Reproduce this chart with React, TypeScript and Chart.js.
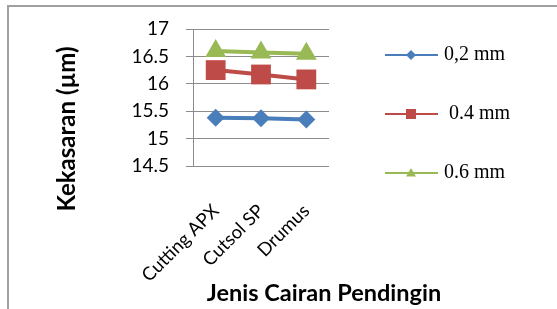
import React, { useEffect, useRef } from "react";
import { Chart, registerables } from "chart.js";

Chart.register(...registerables);

const categories = ["Cutting APX", "Cutsol SP", "Drumus"];
const series02 = [15.38, 15.37, 15.35];
const series04 = [16.25, 16.17, 16.08];
const series06 = [16.6, 16.57, 16.55];
const seriesLabels = ["0,2 mm", " 0.4 mm", "0.6 mm"];
const yTitle = "Kekasaran (µm)";
const xTitle = "Jenis Cairan Pendingin";

const BLUE = "#4A7EBB";
const RED = "#BE4B48";
const GREEN = "#98B954";

const legendAndTitles = {
  id: "legendAndTitles",
  afterDraw(chart: any) {
    const ctx = chart.ctx;
    ctx.save();
    ctx.fillStyle = "#000";
    ctx.font = "bold 24px Lato";
    ctx.textAlign = "center";
    ctx.textBaseline = "middle";
    ctx.translate(67, 129);
    ctx.rotate(-Math.PI / 2);
    ctx.fillText(yTitle, 0, 0);
    ctx.restore();

    ctx.save();
    ctx.fillStyle = "#000";
    ctx.font = "bold 23.5px Lato";
    ctx.textAlign = "center";
    ctx.textBaseline = "middle";
    ctx.fillText(xTitle, 324, 293);
    ctx.restore();

    const rows = [55, 114, 173];
    chart.data.datasets.forEach((ds: any, i: number) => {
      const y = rows[i];
      ctx.save();
      ctx.strokeStyle = ds.borderColor;
      ctx.lineWidth = 2;
      ctx.beginPath();
      ctx.moveTo(385, y);
      ctx.lineTo(438, y);
      ctx.stroke();
      ctx.fillStyle = ds.borderColor;
      const style = ds.pointStyle;
      const r = ds.legendRadius;
      ctx.beginPath();
      if (style === "rectRot") {
        ctx.moveTo(411, y - r);
        ctx.lineTo(411 + r, y);
        ctx.lineTo(411, y + r);
        ctx.lineTo(411 - r, y);
      } else if (style === "rect") {
        ctx.rect(411 - r, y - r, 2 * r, 2 * r);
      } else {
        ctx.moveTo(411, y - r);
        ctx.lineTo(411 + r, y + r * 0.7);
        ctx.lineTo(411 - r, y + r * 0.7);
      }
      ctx.closePath();
      ctx.fill();
      ctx.fillStyle = "#000";
      ctx.font = "20px 'Liberation Serif'";
      ctx.textAlign = "left";
      ctx.textBaseline = "middle";
      ctx.fillText(ds.label, 444, y);
      ctx.restore();
    });
  },
};

export default function App() {
  const ref = useRef<HTMLCanvasElement | null>(null);
  useEffect(() => {
    if (!ref.current) return;
    const chart = new Chart(ref.current, {
      type: "line",
      data: {
        labels: categories,
        datasets: [
          {
            label: seriesLabels[0],
            data: series02,
            borderColor: BLUE,
            backgroundColor: BLUE,
            borderWidth: 4,
            pointStyle: "rectRot",
            pointRadius: 9,
            pointBorderWidth: 0,
            legendRadius: 5,
          } as any,
          {
            label: seriesLabels[1],
            data: series04,
            borderColor: RED,
            backgroundColor: RED,
            borderWidth: 4,
            pointStyle: "rect",
            pointRadius: 14,
            pointBorderWidth: 0,
            legendRadius: 5,
          } as any,
          {
            label: seriesLabels[2],
            data: series06,
            borderColor: GREEN,
            backgroundColor: GREEN,
            borderWidth: 4,
            pointStyle: "triangle",
            pointRadius: 12,
            pointBorderWidth: 0,
            legendRadius: 5,
          } as any,
        ],
      },
      options: {
        animation: false,
        responsive: true,
        maintainAspectRatio: false,
        layout: { padding: { left: 0, right: 228, top: 29, bottom: 0 } },
        plugins: {
          legend: { display: false },
          tooltip: { enabled: false },
        },
        scales: {
          x: {
            offset: true,
            grid: { display: false },
            border: { display: false },
            ticks: {
              autoSkip: false,
              maxRotation: 45,
              minRotation: 45,
              padding: 26,
              color: "#000",
              font: { family: "Lato", size: 18.5 },
            },
            afterFit(scale: any) {
              scale.height = 143;
            },
          },
          y: {
            min: 14.5,
            max: 17,
            ticks: {
              stepSize: 0.5,
              padding: 17,
              color: "#000",
              font: { family: "Lato", size: 19 },
              callback: (v: any) => String(Math.round(Number(v) * 10) / 10),
            },
            grid: { color: "#8c8c8c", tickLength: 7, lineWidth: 1 },
            border: { color: "#8c8c8c", width: 1 },
            afterFit(scale: any) {
              scale.width = 193;
            },
          },
        },
      },
      plugins: [legendAndTitles],
    });
    return () => chart.destroy();
  }, []);
  return (
    <div style={{ position: "fixed", left: 0, top: 0, width: 557, height: 309, background: "#fff" }}>
      <div
        style={{
          position: "absolute",
          left: 7,
          top: 5,
          width: 560,
          height: 320,
          borderTop: "2px solid #a0a0a0",
          borderLeft: "2px solid #a0a0a0",
        }}
      />
      <canvas ref={ref} style={{ position: "absolute", left: 0, top: 0 }} />
    </div>
  );
}
